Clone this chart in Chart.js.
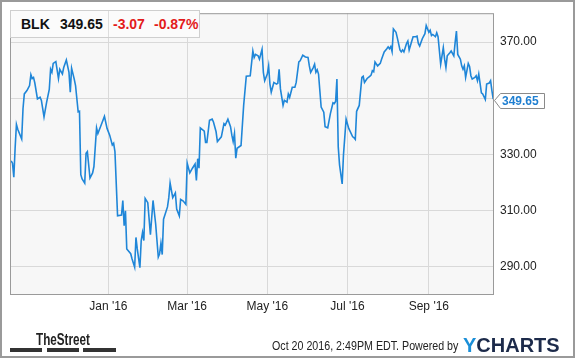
<!DOCTYPE html>
<html><head><meta charset="utf-8">
<script src="https://cdn.jsdelivr.net/npm/chart.js@4/dist/chart.umd.min.js"></script>
<style>
html,body{margin:0;padding:0;background:#fff;}
#wrap{position:relative;width:575px;height:358px;overflow:hidden;font-family:'Liberation Sans',Arial,sans-serif;}
#c{position:absolute;left:0;top:0;}
#frame{position:absolute;left:0;top:0;width:575px;height:358px;box-sizing:border-box;border:2px solid #9a9a9a;pointer-events:none;}
.t{position:absolute;white-space:nowrap;line-height:1;}
.bar{position:absolute;top:348px;height:4px;background:#333;}
</style></head><body>
<div id="wrap">
<canvas id="c" width="575" height="358"></canvas>
<div style="position:absolute;left:10px;top:10px;width:190px;height:28px;box-sizing:border-box;background:#fbfbfb;border:1px solid #cfcfcf;"></div>
<div style="position:absolute;left:108px;top:11px;width:1px;height:26px;background:#dddddd"></div>
<span class="t" style="left:21px;top:16px;font:bold 14px 'Liberation Sans',Arial;color:#111">BLK</span>
<span class="t" style="left:60px;top:16px;font:bold 14px 'Liberation Sans',Arial;color:#111">349.65</span>
<span class="t" style="left:113px;top:16px;font:bold 14px 'Liberation Sans',Arial;color:#e31b1b">-3.07</span>
<span class="t" style="left:154px;top:16px;font:bold 14px 'Liberation Sans',Arial;color:#e31b1b">-0.87%</span>
<span class="t" style="left:36px;top:331px;font:bold 16px 'Liberation Sans',Arial;color:#222;transform:scaleX(0.73);transform-origin:0 0;">TheStreet</span>
<div class="bar" style="left:10px;width:32px"></div>
<div class="bar" style="left:47px;width:32px"></div>
<div class="bar" style="left:83px;width:33px"></div>
<span class="t" style="left:272px;top:339px;font:12px 'Liberation Sans',Arial;color:#222;transform:scaleX(0.89);transform-origin:0 0;">Oct 20 2016, 2:49PM EDT. Powered by</span>
<span class="t" style="left:463px;top:334px;font:bold 20px 'Liberation Sans',Arial;"><span style="color:#1b8fd8">Y</span><span style="color:#1c2a4a">CHARTS</span></span>
<div id="frame"></div>
</div>
<script>
// days since 2016-01-01 and closing prices (BLK)
const days=[-74,-73,-72,-71,-70,-69,-66,-65,-64,-62,-60,-59,-58,-57,-56,-54,-52,-51,-49,-47,-45,-44,-43,-42,-40,-38,-37,-35,-34,-32,-30,-29,-28,-26,-25,-23,-22,-21,-20,-18,-17,-16,-14,-12,-11,-9,-8,-6,-3,-1,
1,3,4,5,7,10,11,12,13,14,17,18,20,21,22,24,25,26,27,28,30,32,34,36,38,39,40,41,42,45,46,47,49,51,52,54,55,57,59,
60,62,64,66,67,68,69,70,73,74,75,77,79,80,82,83,86,88,89,91,93,94,95,96,97,98,101,103,105,108,110,111,112,114,115,117,118,119,
121,122,123,124,126,128,129,130,131,133,134,136,137,138,140,142,143,145,146,148,150,152,153,154,156,157,158,159,160,162,164,165,167,169,171,172,173,174,175,176,178,179,181,
183,186,187,188,189,191,193,194,195,197,199,200,201,202,203,205,207,208,210,212,213,214,215,216,217,219,220,222,223,224,225,227,228,229,231,232,234,235,236,237,239,241,242,
244,245,246,247,249,250,251,253,254,255,256,257,258,260,261,263,264,265,266,268,269,270,271,272,274,275,276,277,279,280,281,282,284,285,287,288,290,291,292,293];
const prices=[327.6,326.8,321.8,332.1,340.6,338.9,335.4,346.2,351.5,352.7,354.5,358.4,357.0,357.4,355.4,349.7,350.3,349.2,343.3,348.6,353.1,360.3,359.2,362.4,363.0,357.0,360.3,358.6,360.9,363.6,359.2,352.1,360.7,356.8,354.5,345.1,345.3,322.7,321.2,319.7,330.3,330.9,321.5,323.3,325.6,339.4,337.4,339.8,343.5,339.2,
336.8,333.3,333.9,330.9,308.0,308.3,313.5,304.5,309.8,296.2,294.5,292.7,289.7,300.3,296.2,289.5,299.2,302.1,299.2,314.2,312.7,301.3,313.5,305.1,293.3,294.5,298.2,294.2,306.8,311.2,314.5,319.7,314.5,316.2,310.4,308.0,313.9,313.3,312.1,
326.8,323.3,325.0,326.5,320.6,328.4,325.0,339.4,338.2,334.2,334.2,342.1,342.5,341.5,338.0,334.5,336.2,340.9,340.4,342.5,339.8,336.8,334.5,337.4,328.6,332.1,333.1,347.4,357.8,358.0,366.8,364.5,365.6,365.1,363.9,367.4,359.2,356.2,
358.6,361.5,355.0,352.1,355.6,355.0,355.3,360.3,353.3,347.4,349.2,348.6,351.5,350.3,353.9,353.9,355.6,362.9,363.3,365.3,364.7,364.5,361.5,359.2,360.9,362.1,359.2,360.1,358.6,346.8,345.0,339.8,339.4,344.4,348.3,348.0,348.8,356.8,332.7,326.2,319.4,329.8,342.5,
339.2,336.2,335.9,335.3,345.3,347.4,357.4,357.8,355.6,357.0,357.8,358.2,359.8,359.4,362.9,361.5,362.4,363.9,366.5,367.6,368.3,367.6,368.4,366.6,374.7,373.5,371.5,367.2,366.5,367.2,366.5,369.5,370.4,367.2,370.4,371.9,371.9,372.1,369.5,368.6,371.2,373.0,375.9,
373.5,374.2,372.3,372.7,371.9,373.3,371.9,362.1,365.1,368.0,363.9,360.9,365.1,366.2,366.8,365.1,369.8,373.9,365.6,363.9,361.5,360.3,361.5,357.4,362.4,361.3,358.0,356.8,357.4,358.0,356.2,358.6,351.9,351.5,349.5,355.0,355.4,356.2,352.7,349.65];
const tickDays=[0,60,121,182,244];
const tickLabels=["Jan '16","Mar '16","May '16","Jul '16","Sep '16"];
const yTicks=[290,310,330,350,370];
const lastPrice=349.65;

Chart.defaults.font.family="'Liberation Sans', Arial, sans-serif";
Chart.defaults.font.size=12;
Chart.defaults.color='#333';

const plotDeco={id:'plotDeco',
  beforeDraw(ch){const a=ch.chartArea,c=ch.ctx;c.save();c.fillStyle='#f7f7f7';c.fillRect(a.left,a.top,a.right-a.left,a.bottom-a.top);c.restore();},
  afterDraw(ch){const a=ch.chartArea,c=ch.ctx;c.save();
    c.strokeStyle='#9a9a9a';c.lineWidth=1;c.strokeRect(a.left+0.5,a.top+0.5,a.right-a.left-1,a.bottom-a.top-1);
    const y=Math.round(ch.scales.y.getPixelForValue(lastPrice))+1.5, x=a.right;
    c.beginPath();c.moveTo(x+0.5,y);c.lineTo(x+6.5,y-7);c.lineTo(x+50.5,y-7);c.lineTo(x+50.5,y+8);c.lineTo(x+6.5,y+8);c.closePath();
    c.fillStyle='#fff';c.fill();c.strokeStyle='#8a8a8a';c.stroke();
    c.font="bold 12px 'Liberation Sans', Arial";c.fillStyle='#1f7fd1';c.textBaseline='middle';c.textAlign='left';
    c.fillText(lastPrice.toFixed(2),x+8,y+1);
    c.restore();}
};

new Chart(document.getElementById('c'),{
  type:'line',
  data:{datasets:[{data:days.map((d,i)=>({x:d,y:prices[i]})),borderColor:'#1f86d8',borderWidth:1.6,pointRadius:0,tension:0,fill:false}]},
  options:{responsive:false,animation:false,devicePixelRatio:1,
    layout:{padding:{left:10,top:10,right:0,bottom:0}},
    plugins:{legend:{display:false},tooltip:{enabled:false}},
    scales:{
      x:{type:'linear',min:-74.9,max:293.6,
        afterBuildTicks:s=>{s.ticks=tickDays.map(v=>({value:v}));},
        afterFit:s=>{s.height=63;},
        grid:{color:'#d9d9d9',drawTicks:false},border:{display:false},
        ticks:{autoSkip:false,maxRotation:0,padding:4,color:'#222',callback:v=>tickLabels[tickDays.indexOf(v)]}},
      y:{position:'right',min:279.77,max:380.3,
        afterBuildTicks:s=>{s.ticks=yTicks.map(v=>({value:v}));},
        afterFit:s=>{s.width=81;},
        grid:{color:'#d9d9d9',drawTicks:false},border:{display:false},
        ticks:{padding:6,color:'#222',callback:v=>v===350?'':v.toFixed(2)}}
    }
  },
  plugins:[plotDeco]
});
</script>
</body></html>
